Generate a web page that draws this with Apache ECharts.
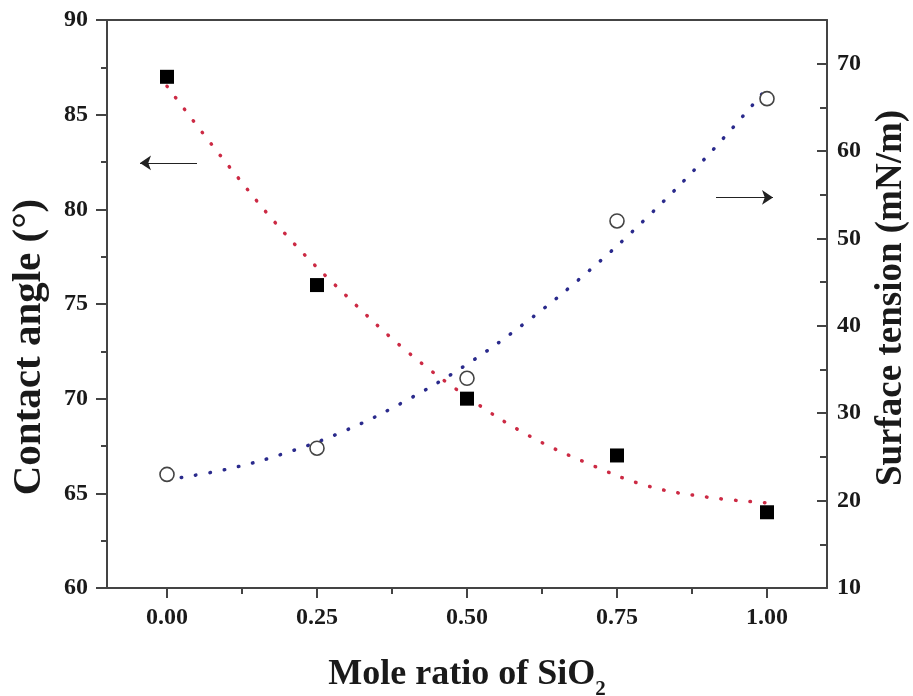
<!DOCTYPE html>
<html>
<head>
<meta charset="utf-8">
<script src="https://cdn.jsdelivr.net/npm/echarts@6/dist/echarts.min.js"></script>
<style>
html,body{margin:0;padding:0;background:#fff;}
#c{width:913px;height:696px;}
</style>
</head>
<body>
<div id="c"></div>
<script>
// ---- data ----
const moleRatio = [0, 0.25, 0.5, 0.75, 1.0];
const contactAngle = [87, 76, 70, 67, 64];
const surfaceTension = [23, 26, 34, 52, 66];

const fitX = [0, 0.1, 0.2, 0.3, 0.4, 0.5, 0.6, 0.7, 0.8, 0.9, 1.0];
const contactFit = [86.5, 82.4, 78.6, 75.4, 72.5, 70.1, 68.1, 66.6, 65.4, 64.8, 64.5];
const tensionFit = [22.4, 23.6, 25.5, 28.1, 31.5, 35.6, 40.5, 46.1, 52.4, 59.4, 67.2];

const xTicks = [0, 0.25, 0.5, 0.75, 1.0];
const xMinorTicks = [0.125, 0.375, 0.625, 0.875];
const rightTicks = [10, 20, 30, 40, 50, 60, 70];
const rightMinorTicks = [15, 25, 35, 45, 55, 65];

// arrows (data coordinates): [from, to]
const leftArrow = [[0.05, 82.45], [-0.045, 82.45]];
const rightArrow = [[0.915, 54.7], [1.01, 54.7]];

const xTitle = 'Mole ratio of SiO{sub|2}';
const leftTitle = 'Contact angle (°)';
const rightTitle = 'Surface tension (mN/m)';

const FONT = 'Liberation Serif';
const AX = '#444';
const TXT = '#1a1a1a';

const chart = echarts.init(document.getElementById('c'), null, {renderer: 'canvas'});

const zip = (xs, ys) => xs.map((x, i) => [x, ys[i]]);

chart.setOption({
  animation: false,
  backgroundColor: '#fff',
  grid: {left: 107, right: 86, top: 20, bottom: 108, containLabel: false, outerBoundsMode: 'none'},
  xAxis: [
    {
      type: 'value', min: -0.1, max: 1.1, position: 'bottom',
      name: xTitle, nameLocation: 'middle', nameGap: 69,
      nameTextStyle: {fontFamily: FONT, fontWeight: 'bold', fontSize: 36, color: TXT,
        rich: {sub: {fontFamily: FONT, fontWeight: 'bold', fontSize: 21, color: TXT, verticalAlign: 'bottom', padding: [0,0,-7,0]}}},
      axisLine: {show: true, onZero: false, lineStyle: {color: AX, width: 2}},
      axisTick: {show: true, inside: false, length: 10, customValues: xTicks, lineStyle: {color: AX, width: 2}},
      axisLabel: {show: true, customValues: xTicks, margin: 18,
        formatter: v => v.toFixed(2),
        fontFamily: FONT, fontWeight: 'bold', fontSize: 24, color: TXT},
      splitLine: {show: false}
    },
    {
      type: 'value', min: -0.1, max: 1.1, position: 'bottom',
      axisLine: {show: false, onZero: false},
      axisTick: {show: true, inside: false, length: 6, customValues: xMinorTicks, lineStyle: {color: AX, width: 2}},
      axisLabel: {show: false},
      splitLine: {show: false}
    },
    {
      type: 'value', min: -0.1, max: 1.1, position: 'top',
      axisLine: {show: true, onZero: false, lineStyle: {color: AX, width: 2}},
      axisTick: {show: false}, axisLabel: {show: false}, splitLine: {show: false}
    }
  ],
  yAxis: [
    {
      type: 'value', min: 60, max: 90, interval: 5, position: 'left',
      name: leftTitle, nameLocation: 'middle', nameGap: 57, nameRotate: 90,
      nameTextStyle: {fontFamily: FONT, fontWeight: 'bold', fontSize: 41, color: TXT, padding: [0, 86, 0, 0]},
      axisLine: {show: true, onZero: false, lineStyle: {color: AX, width: 2}},
      axisTick: {show: true, inside: false, length: 11, lineStyle: {color: AX, width: 2}},
      minorTick: {show: true, splitNumber: 2, length: 6, lineStyle: {color: AX, width: 2}},
      axisLabel: {margin: 19, fontFamily: FONT, fontWeight: 'bold', fontSize: 24, color: TXT},
      splitLine: {show: false}
    },
    {
      type: 'value', min: 10, max: 75, position: 'right',
      name: rightTitle, nameLocation: 'middle', nameGap: 46, nameRotate: 90,
      nameTextStyle: {fontFamily: FONT, fontWeight: 'bold', fontSize: 37, color: TXT, padding: [0, 0, 0, 12]},
      axisLine: {show: true, onZero: false, lineStyle: {color: AX, width: 2}},
      axisTick: {show: true, inside: true, length: 10, customValues: rightTicks, lineStyle: {color: AX, width: 2}},
      axisLabel: {customValues: rightTicks, margin: 10, fontFamily: FONT, fontWeight: 'bold', fontSize: 24, color: TXT},
      splitLine: {show: false}
    },
    {
      type: 'value', min: 10, max: 75, position: 'right',
      axisLine: {show: false, onZero: false},
      axisTick: {show: true, inside: true, length: 7, customValues: rightMinorTicks, lineStyle: {color: AX, width: 2}},
      axisLabel: {show: false},
      splitLine: {show: false}
    }
  ],
  series: [
    {
      type: 'line', xAxisIndex: 0, yAxisIndex: 0, data: zip(fitX, contactFit),
      smooth: 0.4, showSymbol: false, silent: true, z: 2,
      lineStyle: {color: '#cc2a44', width: 3.5, type: [0.5, 14], cap: 'round'}
    },
    {
      type: 'line', xAxisIndex: 0, yAxisIndex: 1, data: zip(fitX, tensionFit),
      smooth: 0.4, showSymbol: false, silent: true, z: 2,
      lineStyle: {color: '#2a2a8c', width: 3.5, type: [0.5, 14], cap: 'round'}
    },
    {
      type: 'scatter', xAxisIndex: 0, yAxisIndex: 0, data: zip(moleRatio, contactAngle),
      symbol: 'rect', symbolSize: 14, z: 5,
      itemStyle: {color: '#000', opacity: 1}
    },
    {
      type: 'scatter', xAxisIndex: 0, yAxisIndex: 1, data: zip(moleRatio, surfaceTension),
      symbol: 'circle', symbolSize: 14, z: 5,
      itemStyle: {color: '#fff', borderColor: '#444', borderWidth: 1.6, opacity: 1}
    },
    {
      type: 'lines', coordinateSystem: 'cartesian2d', xAxisIndex: 0, yAxisIndex: 0,
      data: [{coords: leftArrow}], symbol: ['none', 'arrow'], symbolSize: [8, 11], silent: true,
      lineStyle: {color: '#222', width: 1.2, opacity: 1}
    },
    {
      type: 'lines', coordinateSystem: 'cartesian2d', xAxisIndex: 0, yAxisIndex: 1,
      data: [{coords: rightArrow}], symbol: ['none', 'arrow'], symbolSize: [8, 11], silent: true,
      lineStyle: {color: '#222', width: 1.2, opacity: 1}
    }
  ]
});
</script>
</body>
</html>
